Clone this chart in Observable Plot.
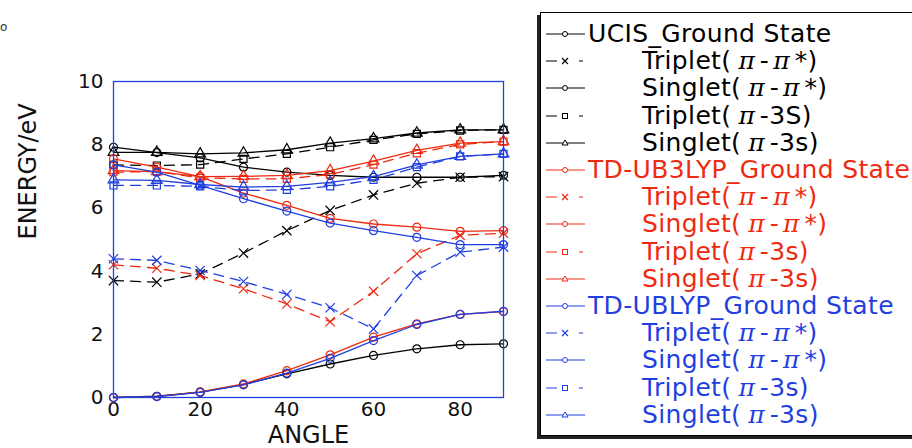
<!DOCTYPE html>
<html><head><meta charset="utf-8">
<script src="https://cdn.jsdelivr.net/npm/d3@7"></script>
<script src="https://cdn.jsdelivr.net/npm/@observablehq/plot@0.6"></script>
<style>
body{margin:0;background:#fff;font-family:"DejaVu Sans",sans-serif;}
#wrap{position:relative;width:912px;height:448px;overflow:hidden;}
#legend{position:absolute;left:540px;top:12px;width:380px;height:422px;border:1.5px solid #000;box-shadow:-3px 3px 0 #222;background:#fff;}
.row{position:absolute;left:0;height:28px;font-size:25px;letter-spacing:0.35px;white-space:nowrap;}
.row svg{position:absolute;left:4px;top:4px;}
.row span.t{position:absolute;top:0;line-height:28px;}
.pi{font-family:"DejaVu Serif",serif;font-style:italic;margin:0 5px 0 4px;letter-spacing:0;}
#corner{position:absolute;left:0px;top:20px;font-size:12px;color:#333;}
</style></head>
<body><div id="wrap"><div id="corner">o</div></div>
<script>
const angles = [0,10,20,30,40,50,60,70,80,90];
const groups = ["UCIS","TD-UB3LYP","TD-UBLYP"];
const groupColors = ["#000000","#ee2a10","#1f3fe0"];
const seriesNames = ["Ground State","Triplet(π-π*)","Singlet(π-π*)","Triplet(π-3s)","Singlet(π-3s)"];
const seriesSymbols = ["circle","times","circle","square","triangle"];
const seriesDashed = [false,true,false,true,false];

const ucisGround   = [0,0.04,0.17,0.41,0.75,1.06,1.33,1.54,1.67,1.70];
const ucisTripPiPi = [3.70,3.65,3.91,4.57,5.28,5.92,6.41,6.78,6.97,6.99];
const ucisSingPiPi = [7.92,7.75,7.58,7.29,7.13,7.03,6.97,6.97,6.97,7.03];
const ucisTrip3s   = [7.36,7.34,7.37,7.55,7.71,7.92,8.15,8.34,8.45,8.47];
const ucisSing3s   = [7.76,7.76,7.71,7.74,7.84,8.05,8.19,8.37,8.47,8.47];

const b3Ground   = [0,0.03,0.18,0.43,0.85,1.35,1.91,2.33,2.63,2.72];
const b3TripPiPi = [4.20,4.09,3.86,3.44,2.96,2.40,3.36,4.55,5.13,5.20];
const b3SingPiPi = [7.55,7.29,6.99,6.47,6.08,5.67,5.49,5.39,5.26,5.28];
const b3Trip3s   = [7.13,7.15,6.95,6.92,6.92,7.06,7.37,7.73,8.01,8.10];
const b3Sing3s   = [7.18,7.15,6.99,7.00,7.03,7.18,7.48,7.82,8.05,8.10];

const blGround   = [0,0.03,0.16,0.40,0.77,1.24,1.80,2.31,2.63,2.73];
const blTripPiPi = [4.39,4.34,4.02,3.67,3.26,2.84,2.17,3.86,4.60,4.76];
const blSingPiPi = [7.36,7.13,6.71,6.29,5.90,5.52,5.28,5.07,4.84,4.84];
const blTrip3s   = [6.71,6.71,6.68,6.55,6.57,6.68,6.89,7.29,7.63,7.71];
const blSing3s   = [6.89,6.87,6.74,6.66,6.68,6.81,6.99,7.36,7.63,7.71];

const xTicks = [0,20,40,60,80];
const yTicks = [0,2,4,6,8,10];

const legendLabels = ["UCIS_Ground State","Triplet(π-π*)","Singlet(π-π*)","Triplet(π-3S)","Singlet(π-3s)",
  "TD-UB3LYP_Ground State","Triplet(π-π*)","Singlet(π-π*)","Triplet(π-3s)","Singlet(π-3s)",
  "TD-UBLYP_Ground State","Triplet(π-π*)","Singlet(π-π*)","Triplet(π-3s)","Singlet(π-3s)"];

const allValues = [
  [ucisGround,ucisTripPiPi,ucisSingPiPi,ucisTrip3s,ucisSing3s],
  [b3Ground,b3TripPiPi,b3SingPiPi,b3Trip3s,b3Sing3s],
  [blGround,blTripPiPi,blSingPiPi,blTrip3s,blSing3s]
];

const marks = [];
allValues.forEach((grp, gi) => {
  grp.forEach((vals, si) => {
    const data = angles.map((a, i) => ({angle: a, energy: vals[i]}));
    marks.push(Plot.line(data, {x: "angle", y: "energy", stroke: groupColors[gi], strokeWidth: 1.3,
      strokeDasharray: seriesDashed[si] ? "10,7" : null}));
    marks.push(Plot.dot(data, {x: "angle", y: "energy", symbol: () => seriesSymbols[si], stroke: groupColors[gi],
      fill: "none", r: seriesSymbols[si] === "times" ? 4.3 : 4, strokeWidth: 1.2}));
  });
});

const chart = Plot.plot({
  width: 912, height: 448,
  marginLeft: 113, marginRight: 409, marginTop: 81, marginBottom: 51,
  style: {fontFamily: "DejaVu Sans, sans-serif", background: "transparent"},
  x: {domain: [0, 90]},
  y: {domain: [0, 10]},
  symbol: {type: "identity"},
  marks: [
    Plot.axisX({ticks: xTicks, tickSize: 0, tickPadding: 4, fontSize: 20, label: null, color: "#111"}),
    Plot.axisY({ticks: yTicks, tickSize: 0, tickPadding: 10, fontSize: 20, label: null, color: "#111"}),
    ...marks,
    Plot.frame({stroke: "#1f3fe0", strokeWidth: 1.3}),
    Plot.text(["ENERGY/eV"], {frameAnchor: "left", dx: -85, rotate: -90, fontSize: 24, fill: "#111"}),
    Plot.text(["ANGLE"], {frameAnchor: "bottom", dy: 45, fontSize: 24, fill: "#111"})
  ]
});
const wrap = document.getElementById("wrap");
wrap.prepend(chart);

// legend
const leg = document.createElement("div");
leg.id = "legend";
wrap.appendChild(leg);
const ns = "http://www.w3.org/2000/svg";
legendLabels.forEach((lab, i) => {
  const gi = Math.floor(i / 5), si = i % 5;
  const color = groupColors[gi];
  const row = document.createElement("div");
  row.className = "row";
  row.style.top = (33 + 27.2 * i - 14 - 12) + "px";
  row.style.width = "380px";
  const svg = document.createElementNS(ns, "svg");
  svg.setAttribute("width", 44); svg.setAttribute("height", 20);
  const cx = 20, cy = 10;
  const mk = (tag, attrs) => { const e = document.createElementNS(ns, tag); for (const k in attrs) e.setAttribute(k, attrs[k]); svg.appendChild(e); return e; };
  if (seriesDashed[si]) {
    mk("line", {x1: 1, x2: 12, y1: cy, y2: cy, stroke: color, "stroke-width": 1});
    mk("line", {x1: 34, x2: 38, y1: cy, y2: cy, stroke: color, "stroke-width": 1});
  } else {
    mk("line", {x1: 1, x2: 40, y1: cy, y2: cy, stroke: color, "stroke-width": 1});
  }
  const s = seriesSymbols[si];
  if (s === "circle") mk("circle", {cx, cy, r: 2.5, fill: "#fff", stroke: color, "stroke-width": 1});
  if (s === "square") mk("rect", {x: cx - 2.5, y: cy - 2.5, width: 5, height: 5, fill: "#fff", stroke: color, "stroke-width": 1});
  if (s === "triangle") mk("path", {d: `M${cx},${cy-3}L${cx+3},${cy+2}L${cx-3},${cy+2}Z`, fill: "#fff", stroke: color, "stroke-width": 1});
  if (s === "times") mk("path", {d: `M${cx-3},${cy-3}L${cx+3},${cy+3}M${cx+3},${cy-3}L${cx-3},${cy+3}`, stroke: color, "stroke-width": 1.2});
  row.appendChild(svg);
  const t = document.createElement("span");
  t.className = "t";
  t.style.color = color;
  t.style.left = (si === 0 ? 47 : 101) + "px";
  let html = lab.replace(/π/g, '<span class="pi">π</span>');
  html = html.replace(/\(/, '(<span style="margin-left:3px"></span>');
  t.innerHTML = html;
  row.appendChild(t);
  leg.appendChild(row);
});
</script></body></html>
